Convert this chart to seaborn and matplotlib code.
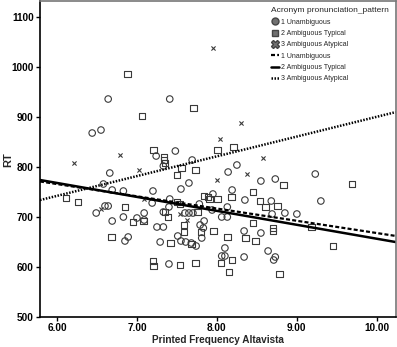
import numpy as np
import pandas as pd
import seaborn as sns
import matplotlib
matplotlib.use("Agg")
import matplotlib.pyplot as plt
from matplotlib.lines import Line2D

# ---------------- data ----------------
unamb_freq = [6.64, 6.44, 6.55, 7.41, 7.48, 7.24, 7.69, 6.66, 7.33, 8.25, 8.14, 8.73, 8.55, 9.23,
              6.58, 6.69, 6.83, 7.20, 7.55, 7.65, 6.49, 6.60, 6.64, 6.69, 6.83, 7.00, 7.09, 7.19,
              7.25, 7.33, 7.29, 6.85, 6.89, 7.40, 7.41, 7.40, 7.33, 7.60, 7.65, 7.70, 7.78, 7.51,
              7.55, 7.61, 7.68, 7.74, 7.79, 7.83, 7.81, 7.84, 7.95, 8.19, 8.35, 8.68, 8.85, 9.00,
              9.30, 7.94, 8.06, 8.13, 8.34, 8.55, 8.10, 8.06, 8.10, 8.34, 8.64, 8.73, 8.71, 8.13,
              8.69, 7.09]
unamb_rt = [936, 868, 874, 936, 832, 822, 814, 788, 802, 804, 790, 776, 772, 786,
            766, 754, 752, 752, 756, 768, 708, 722, 722, 692, 700, 698, 708, 728,
            680, 680, 650, 652, 660, 606, 736, 720, 710, 708, 708, 708, 726, 662,
            652, 650, 648, 642, 684, 678, 658, 692, 746, 754, 734, 732, 708, 706,
            732, 714, 700, 700, 672, 668, 638, 622, 622, 620, 632, 620, 614, 720,
            706, 694]

typ_freq = [6.88, 7.06, 7.71, 7.21, 7.34, 7.34, 7.35, 7.56, 7.73, 7.50, 8.01, 8.21, 6.11, 6.26,
            6.85, 6.95, 7.42, 6.68, 7.20, 7.21, 7.54, 7.73, 7.39, 7.54, 7.59, 7.59, 7.68, 7.35,
            7.08, 7.84, 7.89, 7.91, 8.01, 8.18, 8.45, 8.54, 8.61, 8.76, 8.83, 9.69, 9.18, 9.45,
            8.13, 7.96, 8.36, 8.45, 8.48, 8.70, 8.70, 8.05, 8.19, 8.15, 8.78, 7.76, 7.80, 7.50]
typ_rt = [986, 902, 918, 834, 820, 814, 808, 798, 794, 784, 834, 840, 738, 730,
          720, 690, 648, 660, 612, 602, 604, 608, 700, 726, 684, 670, 646, 710,
          692, 742, 740, 736, 736, 740, 750, 732, 720, 722, 764, 766, 680, 642,
          660, 672, 658, 688, 652, 678, 672, 608, 614, 590, 586, 710, 670, 730]

atyp_freq = [7.95, 6.21, 6.79, 7.03, 8.30, 8.04, 8.58, 8.38, 8.00, 6.55, 7.09, 7.54, 7.63]
atyp_rt = [1038, 808, 824, 794, 888, 856, 818, 786, 774, 716, 736, 706, 694]

patterns = ["1 Unambiguous", "2 Ambiguous Typical", "3 Ambiguous Atypical"]
# linear fit lines (RT = intercept + slope * freq)
fit_intercepts = [912.9, 935.5, 505.0]
fit_slopes = [-24.5, -27.9, 39.55]

x_ticks = [6.0, 7.0, 8.0, 9.0, 10.0]
y_ticks = [500, 600, 700, 800, 900, 1000, 1100]

df = pd.concat([
    pd.DataFrame({"freq": unamb_freq, "RT": unamb_rt, "pattern": patterns[0]}),
    pd.DataFrame({"freq": typ_freq, "RT": typ_rt, "pattern": patterns[1]}),
    pd.DataFrame({"freq": atyp_freq, "RT": atyp_rt, "pattern": patterns[2]}),
], ignore_index=True)

# ---------------- plot ----------------
sns.set_style("white")
plt.rcParams["font.family"] = ["Liberation Sans", "DejaVu Sans"]

fig = plt.figure(figsize=(3.97, 3.47), dpi=100)
ax = fig.add_axes([0.1008, 0.0865, 0.8962, 0.9105])

xlim = (5.7875, 10.2375)
ylim = (500, 1132)
ax.set_xlim(*xlim)
ax.set_ylim(*ylim)

mk_col = "#3a3a3a"
sns.scatterplot(data=df[df.pattern == patterns[0]], x="freq", y="RT", marker="o", s=22,
                facecolor="none", edgecolor=mk_col, linewidth=0.8, ax=ax, legend=False)
sns.scatterplot(data=df[df.pattern == patterns[1]], x="freq", y="RT", marker="s", s=22,
                facecolor="none", edgecolor=mk_col, linewidth=0.8, ax=ax, legend=False)
sns.scatterplot(data=df[df.pattern == patterns[2]], x="freq", y="RT", marker="x", s=9,
                color=mk_col, linewidth=0.8, ax=ax, legend=False)

styles = [dict(ls=(0, (1.8, 1.0)), lw=1.6), dict(ls="-", lw=1.8), dict(ls=(0, (0.6, 0.6)), lw=1.8)]
xs = np.array(xlim)
for b0, b1, st in zip(fit_intercepts, fit_slopes, styles):
    sns.lineplot(x=xs, y=b0 + b1 * xs, color="black", linestyle=st["ls"], linewidth=st["lw"], ax=ax)

ax.set_xticks(x_ticks)
ax.set_xticklabels([f"{v:.2f}" for v in x_ticks])
ax.set_yticks(y_ticks)
ax.set_yticklabels([str(v) for v in y_ticks])
ax.tick_params(axis="both", which="major", length=3, width=1, direction="out",
               labelsize=7.2, pad=1.5, bottom=True, left=True, colors="black")
for lab in ax.get_xticklabels() + ax.get_yticklabels():
    lab.set_fontweight("bold")

ax.set_xlabel("Printed Frequency Altavista", fontsize=7.2, fontweight="bold", va="center")
ax.set_ylabel("RT", fontsize=8, fontweight="bold", va="center")
ax.xaxis.set_label_coords(0.5, -0.074)
ax.yaxis.set_label_coords(-0.088, 0.497)

for side in ["left", "bottom"]:
    ax.spines[side].set_color("black")
    ax.spines[side].set_linewidth(1.2)
for side in ["top", "right"]:
    ax.spines[side].set_visible(True)
    ax.spines[side].set_color("#777777")
    ax.spines[side].set_linewidth(1.2)

leg_col = "#707070"
handles = [
    Line2D([], [], marker="o", ls="none", markersize=5, markerfacecolor=leg_col, markeredgecolor="#444444"),
    Line2D([], [], marker="s", ls="none", markersize=5, markerfacecolor=leg_col, markeredgecolor="#444444"),
    Line2D([], [], marker="X", ls="none", markersize=6, markerfacecolor=leg_col, markeredgecolor="#444444"),
    Line2D([], [], color="black", **styles[0]),
    Line2D([], [], color="black", **styles[1]),
    Line2D([], [], color="black", **styles[2]),
]
labels = patterns + patterns
leg = ax.legend(handles, labels, title="Acronym pronunciation_pattern", loc="upper right",
                bbox_to_anchor=(0.995, 0.995), frameon=False, fontsize=5.0, title_fontsize=6.0,
                handlelength=1.1, handletextpad=0.3, labelspacing=0.62, borderaxespad=0.3,
                alignment="left")

fig.savefig("out.png", dpi=100, facecolor="white")
